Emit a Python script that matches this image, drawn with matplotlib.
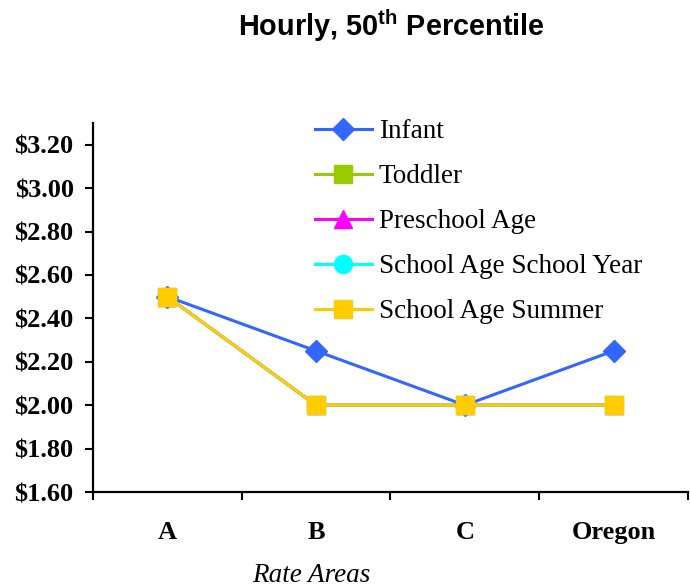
import matplotlib
matplotlib.use('Agg')
import matplotlib.pyplot as plt

# data
areas = ['A', 'B', 'C', 'Oregon']
infant = [2.50, 2.25, 2.00, 2.25]
toddler = [2.50, 2.00, 2.00, 2.00]
preschool = [2.50, 2.00, 2.00, 2.00]
school_year = [2.50, 2.00, 2.00, 2.00]
school_summer = [2.50, 2.00, 2.00, 2.00]
y_ticks = [1.60, 1.80, 2.00, 2.20, 2.40, 2.60, 2.80, 3.00, 3.20]

plt.rcParams['mathtext.fontset'] = 'custom'
plt.rcParams['mathtext.bf'] = 'Liberation Sans:bold'
plt.rcParams['mathtext.rm'] = 'Liberation Sans:bold'

fig = plt.figure(figsize=(6.9, 5.87), dpi=100)
ax = fig.add_axes([0.1348, 0.1618, 0.8622, 0.6287])

x = list(range(len(areas)))
series = [
    (infant, 'Infant', '#3366FF', 'D', 11),
    (toddler, 'Toddler', '#99CC00', 's', 13),
    (preschool, 'Preschool Age', '#FF00FF', '^', 13),
    (school_year, 'School Age School Year', '#00FFFF', 'o', 13),
    (school_summer, 'School Age Summer', '#FFCC00', 's', 13),
]
for vals, name, col, mk, ms in series:
    ax.plot(x, vals, color=col, lw=2.2, marker=mk, markersize=ms,
            markeredgecolor=col, label=name)

ax.set_xlim(-0.5, 3.5)
ax.set_ylim(1.60, 3.30)
ax.set_yticks(y_ticks)
ax.set_yticklabels(['$%.2f' % v for v in y_ticks])
ax.set_xticks([-0.5, 0.5, 1.5, 2.5, 3.5])
ax.set_xticklabels([])
ax.set_xticks(x, minor=True)
ax.set_xticklabels(areas, minor=True)
ax.tick_params(axis='x', which='minor', length=0, pad=21)
ax.tick_params(axis='x', which='major', direction='out', length=6, width=1.5)
ax.tick_params(axis='y', direction='out', length=6, width=1.5, pad=8)

for lab in ax.get_yticklabels() + ax.get_xticklabels(minor=True):
    lab.set_fontfamily('Liberation Serif')
    lab.set_fontweight('bold')
    lab.set_fontsize(19)

for s in ['top', 'right']:
    ax.spines[s].set_visible(False)
for s in ['left', 'bottom']:
    ax.spines[s].set_linewidth(1.6)

leg = ax.legend(loc='upper left', bbox_to_anchor=(0.355, 1.04), frameon=False,
                prop={'family': 'Liberation Serif', 'size': 19.5},
                handlelength=2.1, handletextpad=0.26, labelspacing=0.74,
                borderaxespad=0)

fig.text(0.567, 0.956, r'Hourly, 50$^{\mathbf{th}}$ Percentile', ha='center', va='center',
         fontsize=20.8, fontweight='bold', family='Liberation Sans')
fig.text(0.451, 0.009, 'Rate Areas', ha='center', va='baseline', fontsize=19.5,
         style='italic', family='Liberation Serif')

fig.savefig('out.png', dpi=100)
